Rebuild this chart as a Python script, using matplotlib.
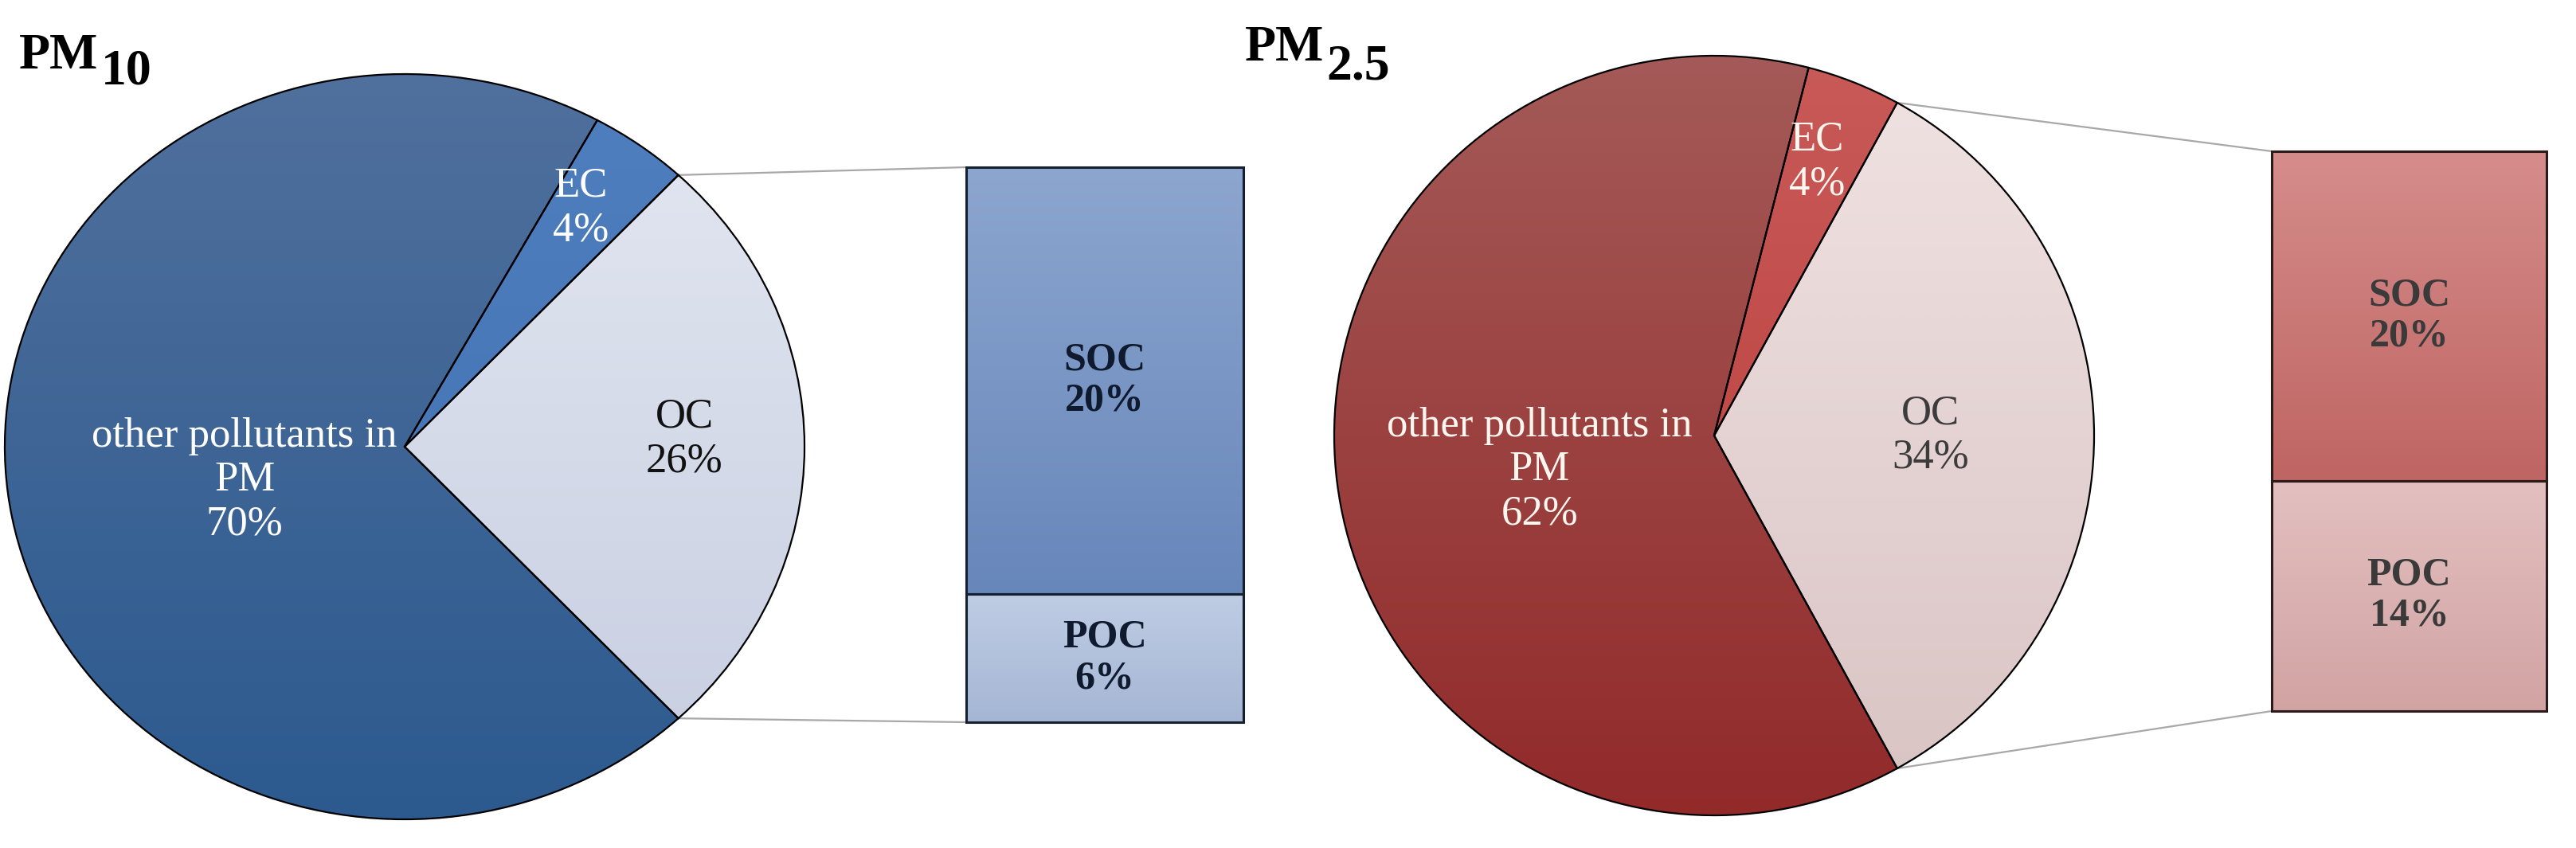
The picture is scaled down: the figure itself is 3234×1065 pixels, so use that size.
import numpy as np
import matplotlib
matplotlib.use("Agg")
import matplotlib.pyplot as plt
from matplotlib.patches import ConnectionPatch

# ---------------- data ----------------
pie_labels = ["OC", "EC", "other pollutants in\nPM"]
pm10_pie = [26, 4, 70]
pm25_pie = [34, 4, 62]
bar_labels = ["POC", "SOC"]
pm10_bar = [6, 20]
pm25_bar = [14, 20]
titles = [("PM", "10"), ("PM", "2.5")]

# ---------------- styling ----------------
W, H, DPI = 3234, 1065, 100
FONT = "Liberation Serif"

blue = dict(
    pie=[("#e4e8f2", "#c6cde0"), ("#4f7fbf", "#3f6fae"), ("#50709d", "#2c5a8f")],
    bar=[("#bfcce4", "#a5b6d4"), ("#8ca6cf", "#6786ba")],
    pie_txt=["#111111", "white", "white"],
    bar_txt="#0f1a2e", edge="#15202e")
red = dict(
    pie=[("#f1e3e3", "#d9c3c3"), ("#c85a58", "#b83a38"), ("#a45a58", "#922a2a")],
    bar=[("#e3c0c0", "#d2a3a3"), ("#d58d8b", "#bf6563")],
    pie_txt=["#3c3c3c", "#fff6f0", "#fff6f0"],
    bar_txt="#3a3a3a", edge="#2a1a1a")

fig = plt.figure(figsize=(W / DPI, H / DPI), dpi=DPI)
fig.patch.set_facecolor("white")


def px_axes(x0, y0, x1, y1):
    return fig.add_axes([x0 / W, 1 - y1 / H, (x1 - x0) / W, (y1 - y0) / H])


def hex2rgb(h):
    h = h.lstrip("#")
    return np.array([int(h[i:i + 2], 16) / 255 for i in (0, 2, 4)])


def gradient(c_top, c_bot, n=256):
    t = np.linspace(0, 1, n)[:, None]
    img = (1 - t) * hex2rgb(c_top) + t * hex2rgb(c_bot)
    return img[:, None, :]


def draw_group(vals, bvals, pal, pie_box, bar_box, lab_pos, oth_pct_lbl):
    pad = 1.02
    x0, y0, x1, y1 = pie_box
    cx, cy = (x0 + x1) / 2, (y0 + y1) / 2
    rx, ry = (x1 - x0) / 2 * pad, (y1 - y0) / 2 * pad
    axp = px_axes(cx - rx, cy - ry, cx + rx, cy + ry)
    start = -vals[0] * 360 / 100 / 2
    wedges, _ = axp.pie(vals, startangle=start, counterclock=True,
                        colors=[c[1] for c in pal["pie"]],
                        wedgeprops=dict(edgecolor="black", linewidth=1.6))
    axp.set_aspect("auto")
    axp.set_xlim(-pad, pad)
    axp.set_ylim(-pad, pad)
    axp.axis("off")
    for w, (ct, cb) in zip(wedges, pal["pie"]):
        im = axp.imshow(gradient(ct, cb), extent=(-1, 1, -1, 1), aspect="auto",
                        zorder=1, interpolation="bilinear")
        im.set_clip_path(w)
        w.set_facecolor("none")
        w.set_zorder(3)
    axp.set_xlim(-pad, pad)
    axp.set_ylim(-pad, pad)

    texts = [f"{pie_labels[0]}\n{vals[0]}%", f"{pie_labels[1]}\n{vals[1]}%",
             f"{pie_labels[2]}\n{vals[2]}%"]
    for t, (lx, ly), col in zip(texts, lab_pos, pal["pie_txt"]):
        axp.text(lx, ly, t, ha="center", va="center", color=col, fontsize=38,
                 family=FONT, linespacing=1.2, zorder=5)

    # bar
    bx0, by0, bx1, by1 = bar_box
    axb = px_axes(bx0, by0, bx1, by1)
    total = sum(bvals)
    bottoms = np.concatenate([[0], np.cumsum(bvals)[:-1]])
    bars = axb.bar([0] * len(bvals), bvals, bottom=bottoms, width=1.0,
                   color=[c[1] for c in pal["bar"]], edgecolor=pal["edge"],
                   linewidth=2.2, clip_on=False)
    axb.set_xlim(-0.5, 0.5)
    axb.set_ylim(0, total)
    axb.axis("off")
    for b, (ct, cb), lab, v, bt in zip(bars, pal["bar"], bar_labels, bvals, bottoms):
        im = axb.imshow(gradient(ct, cb), extent=(-0.5, 0.5, bt, bt + v),
                        aspect="auto", zorder=1, interpolation="bilinear")
        im.set_clip_path(b)
        b.set_facecolor("none")
        b.set_zorder(3)
        axb.text(0, bt + v / 2, f"{lab}\n{v}%", ha="center", va="center",
                 fontsize=36, fontweight="bold", family=FONT,
                 color=pal["bar_txt"], linespacing=1.15, zorder=5)
    axb.set_xlim(-0.5, 0.5)
    axb.set_ylim(0, total)

    # connector lines
    a_top = np.deg2rad(start + vals[0] * 360 / 100)
    a_bot = np.deg2rad(start)
    for ang, yb in ((a_top, total), (a_bot, 0)):
        con = ConnectionPatch(xyA=(np.cos(ang), np.sin(ang)), coordsA=axp.transData,
                              xyB=(-0.5, yb), coordsB=axb.transData,
                              color="#a8a8a8", linewidth=1.6, zorder=0)
        fig.add_artist(con)


draw_group(pm10_pie, pm10_bar, blue,
           pie_box=(6, 93, 1010, 1029), bar_box=(1213, 210, 1561, 907),
           lab_pos=[(0.70, 0.02), (0.44, 0.64), (-0.40, -0.09)], oth_pct_lbl=None)
draw_group(pm25_pie, pm25_bar, red,
           pie_box=(1675, 70, 2629, 1024), bar_box=(2852, 190, 3197, 893),
           lab_pos=[(0.57, 0.0), (0.27, 0.72), (-0.46, -0.09)], oth_pct_lbl=None)

# titles (PM with full-size subscript)
fig.canvas.draw()
for (main, sub), (x, base, dy) in zip(titles, [(24, 86, 20), (1563, 76, 24)]):
    t1 = fig.text(x / W, 1 - base / H, main, fontsize=46, fontweight="bold",
                  family=FONT, ha="left", va="baseline")
    fig.canvas.draw()
    bb = t1.get_window_extent()
    fig.text((bb.x1 + 3) / W, 1 - (base + dy) / H, sub, fontsize=46,
             fontweight="bold", family=FONT, ha="left", va="baseline")

fig.savefig("out.png", dpi=DPI, facecolor="white")
